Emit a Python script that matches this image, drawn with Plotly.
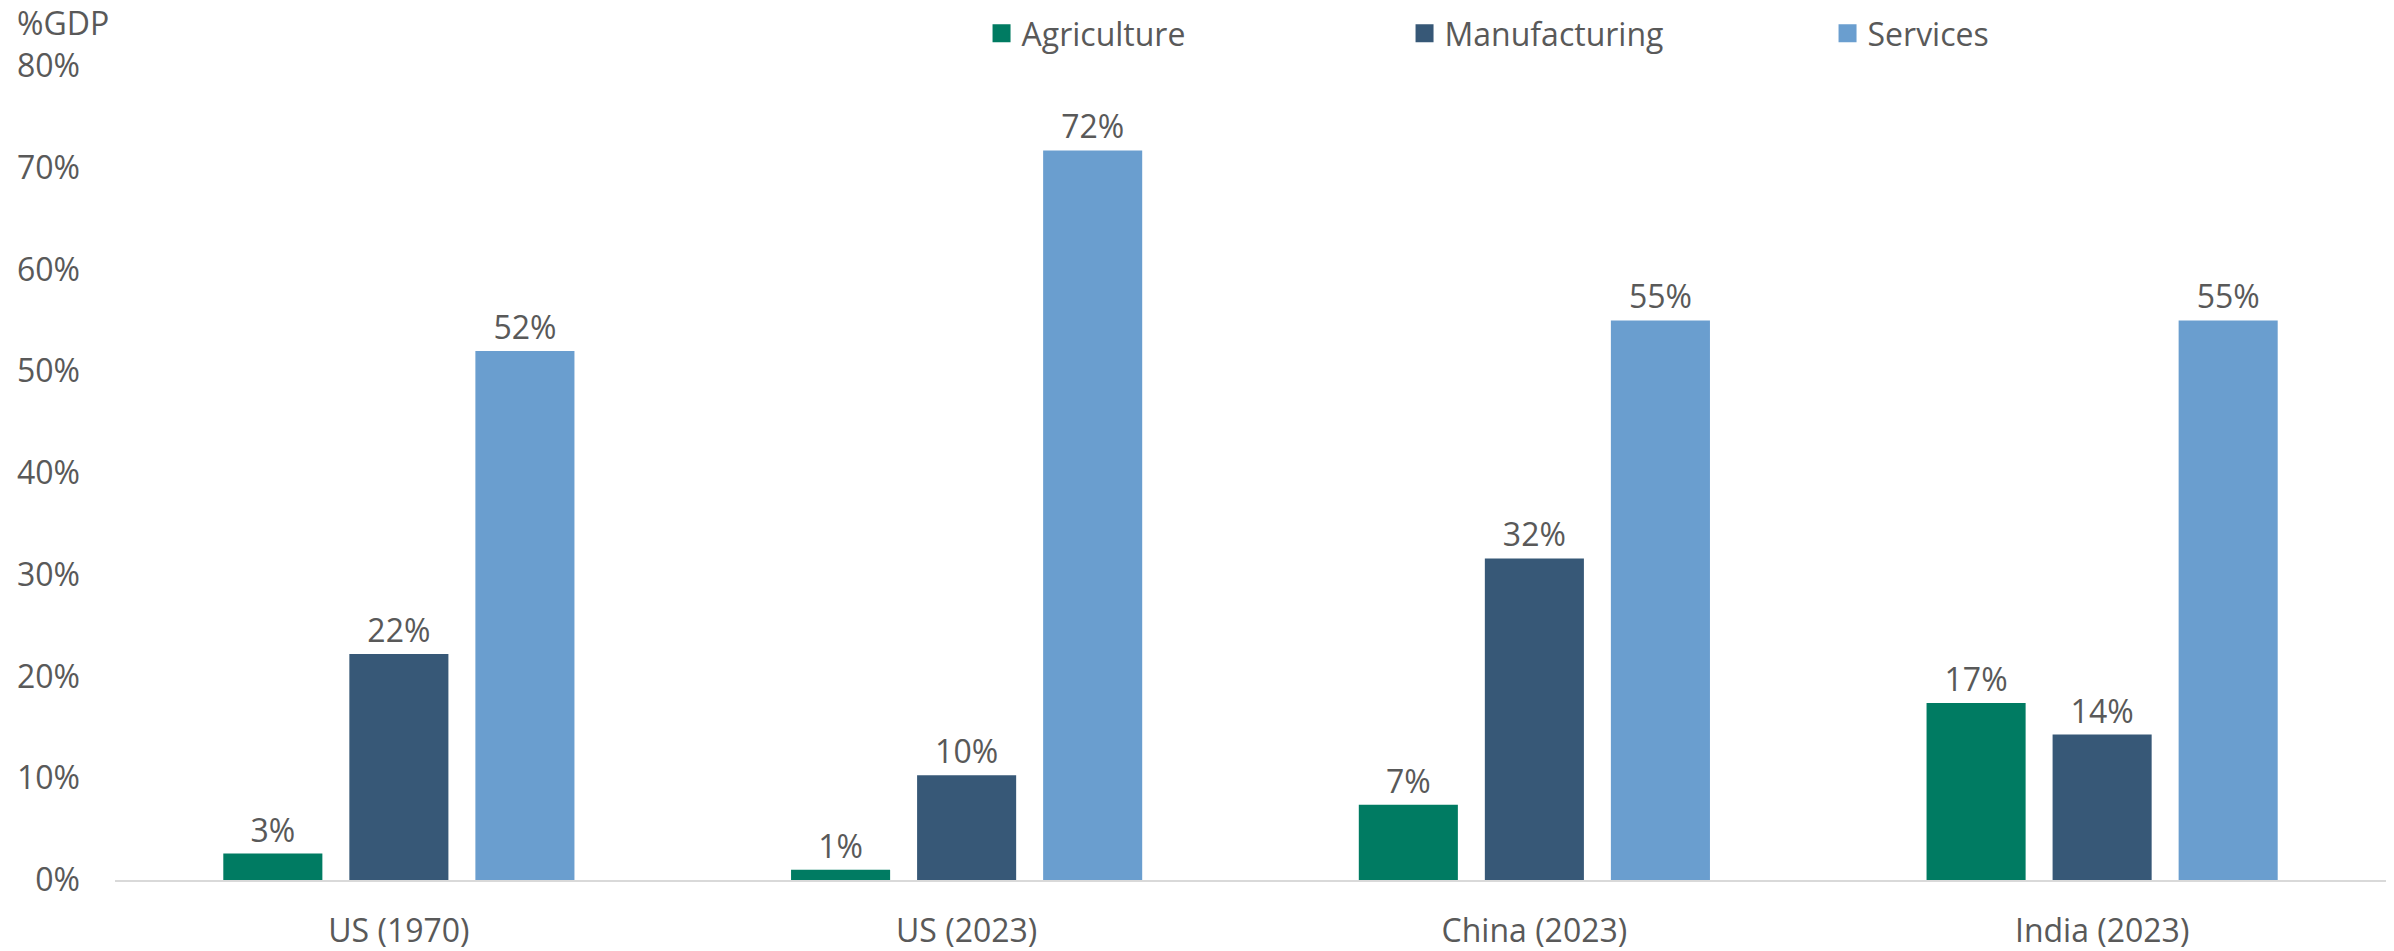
import plotly.graph_objects as go

# Share of GDP by sector
categories = ["US (1970)", "US (2023)", "China (2023)", "India (2023)"]
agriculture = [2.6, 1.0, 7.4, 17.4]
manufacturing = [22.2, 10.3, 31.6, 14.3]
services = [52.0, 71.7, 55.0, 55.0]

series = [
    ("Agriculture", agriculture, "#007B62"),
    ("Manufacturing", manufacturing, "#375877"),
    ("Services", services, "#6A9ECF"),
]

FONT = "Open Sans, Noto Sans, sans-serif"
GREY = "#595959"

fig = go.Figure()
for name, values, color in series:
    fig.add_trace(go.Bar(
        name=name,
        x=categories,
        y=values,
        marker=dict(color=color, line=dict(width=0)),
        texttemplate="%{y:.0f}%",
        textposition="outside",
        textfont=dict(family=FONT, size=32, color=GREY),
        cliponaxis=False,
        showlegend=False,
        legendgroup=name,
    ))

# legend entries with larger square swatches
for name, values, color in series:
    fig.add_trace(go.Scatter(
        name=name,
        x=[None],
        y=[None],
        mode="markers",
        marker=dict(symbol="square", size=16, color=color, line=dict(width=2, color=color)),
        showlegend=True,
        legendgroup=name,
        hoverinfo="skip",
    ))

fig.update_layout(
    width=2394,
    height=951,
    paper_bgcolor="white",
    plot_bgcolor="white",
    barmode="group",
    bargap=0.334,
    bargroupgap=0.214,
    margin=dict(l=115, r=8, t=66, b=71, autoexpand=False),
    font=dict(family=FONT, size=32, color=GREY),
    showlegend=True,
    legend=dict(
        orientation="h",
        xref="container", yref="container",
        x=0.41, y=0.9937,
        xanchor="left", yanchor="top",
        entrywidth=378,
        itemsizing="trace",
        font=dict(family=FONT, size=32, color=GREY),
        bgcolor="rgba(0,0,0,0)",
        traceorder="normal",
    ),
    xaxis=dict(
        showline=True,
        linecolor="#D9D9D9",
        linewidth=2,
        ticks="",
        showgrid=False,
        zeroline=False,
        automargin=False,
        ticklabelstandoff=22,
        tickfont=dict(family=FONT, size=32, color=GREY),
    ),
    yaxis=dict(
        range=[0, 80],
        dtick=10,
        ticksuffix="%",
        showgrid=False,
        zeroline=False,
        showline=False,
        ticks="",
        automargin=False,
        ticklabelstandoff=34,
        tickfont=dict(family=FONT, size=32, color=GREY),
    ),
    annotations=[
        dict(
            text="%GDP",
            xref="paper", yref="paper",
            x=0, y=1.082,
            xanchor="left", yanchor="top",
            xshift=-100,
            showarrow=False,
            font=dict(family=FONT, size=32, color=GREY),
        )
    ],
)

fig.write_html("out.html")
